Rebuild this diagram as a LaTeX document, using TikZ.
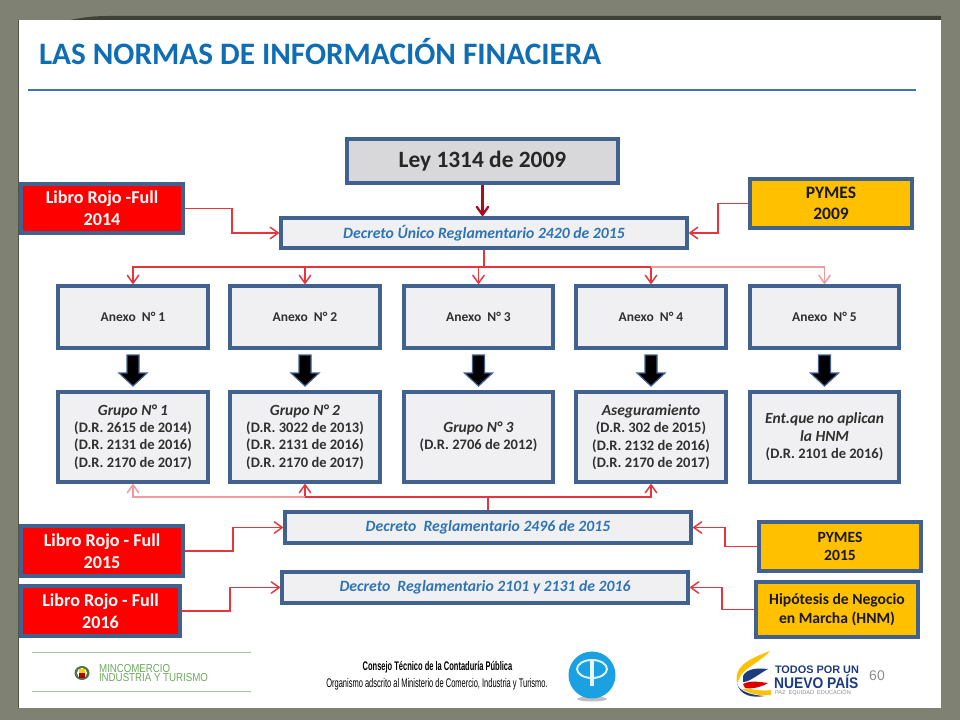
\documentclass[tikz,border=0pt]{standalone}
\usepackage{fontspec}
\setmainfont{Carlito}
\newfontfamily\narrowf[FakeStretch=0.6]{Liberation Sans}
\newfontfamily\logof{Liberation Sans}
\newfontfamily\minf[FakeStretch=0.845]{Liberation Sans}
\newfontfamily\nuevof[FakeStretch=0.9]{Liberation Sans}
\usetikzlibrary{arrows.meta,calc}
\definecolor{bgc}{HTML}{7F8172}
\definecolor{shadowc}{HTML}{3E4135}
\definecolor{frame}{HTML}{41618F}
\definecolor{pale}{HTML}{F0F0F2}
\definecolor{greyb}{HTML}{D8D8DA}
\definecolor{amber}{HTML}{FFC000}
\definecolor{titleb}{HTML}{0F6DB4}
\definecolor{rule}{HTML}{3F74AE}
\definecolor{decb}{HTML}{2E74B5}
\definecolor{lnk}{HTML}{E8343C}
\definecolor{lnkpale}{HTML}{F29A9C}
\definecolor{lnkdark}{HTML}{A80C1C}
\definecolor{txt}{HTML}{303030}
\definecolor{mingreen}{HTML}{6FA860}
\definecolor{linegreen}{HTML}{A9B8A0}
\definecolor{navy}{HTML}{1C3C7E}
\definecolor{cpblue}{HTML}{1BA1E2}
\newcommand\sz[2]{\fontsize{\dimexpr#1pt*3/4\relax}{\dimexpr#2pt*3/4\relax}\selectfont}
\tikzset{
  x=0.75pt,y=-0.75pt,
  box/.style={draw=frame,line width=3pt,rectangle,inner sep=0pt,align=center,outer sep=0.5\pgflinewidth,fill=pale},
  leybox/.style={box,fill=greyb,font=\sz{23.4}{26}\bfseries,text=black!85},
  decbox/.style={box,font=\sz{15.7}{17}\bfseries\itshape,text=decb},
  redbox/.style={box,fill=red,font=\sz{18.1}{22}\bfseries,text=white},
  ambbox/.style={box,fill=amber,font=\sz{17.5}{21.5}\bfseries,text=black!90},
  ambsmall/.style={box,fill=amber,font=\sz{15.6}{18.5}\bfseries,text=black!90},
  anxbox/.style={box,font=\sz{13.5}{17}\bfseries,text=txt},
  grpbox/.style={box,font=\sz{14.5}{17.4}\bfseries,text=txt},
  link/.style={draw=lnk,line width=1.1pt,-{Straight Barb[length=6pt,width=8.5pt,round]}},
  linkpale/.style={link,draw=lnkpale},
  linkdark/.style={link,draw=lnkdark,line width=1.7pt},
  bus/.style={draw=lnk,line width=1.1pt},
  bigarrow/.style={fill=black,draw=frame,line width=0.9pt,line join=miter},
  plain/.style={inner sep=0pt,outer sep=0pt},
}
% name, style, x0, y0, x1, y1, text
\newcommand\bx[7]{\node[#2,minimum width={(#5-#3-4)*0.75pt},minimum height={(#6-#4-4)*0.75pt}] (#1) at ({(#3+#5)/2},{(#4+#6)/2}) {#7};}
\newcommand\bigarr[1]{\draw[bigarrow] ($(#1.south)+(-6,5)$) -- ($(#1.south)+(6,5)$) -- ($(#1.south)+(6,23)$) -- ($(#1.south)+(14,23)$) -- ($(#1.south)+(0,36)$) -- ($(#1.south)+(-14,23)$) -- ($(#1.south)+(-6,23)$) -- cycle;}
\begin{document}
\begin{tikzpicture}
\useasboundingbox (0,0) rectangle (960,720);
% background and slide
\fill[bgc] (0,0) rectangle (960,720);
\fill[shadowc] (70,20) .. controls (85,17) and (95,16) .. (110,16) -- (941,16) -- (941,20) -- cycle;
\fill[shadowc!70!bgc] (17.5,20) rectangle (19,708);
\fill[white] (19,20) rectangle (941,708);
% title
\node[plain,anchor=west,font=\sz{31.2}{34}\bfseries,text=titleb] (title) at (39,52) {LAS NORMAS DE INFORMACIÓN FINACIERA};
\draw[rule,line width=1.2pt] (28,90) -- (916,90);
% boxes
\bx{ley}{leybox}{345}{137}{620}{185}{\raisebox{-1.5pt}{Ley 1314 de 2009}}
\bx{dec}{decbox}{279}{216}{689}{250}{Decreto Único Reglamentario 2420 de 2015}
\bx{lr14}{redbox}{19}{182}{185}{235}{Libro Rojo -Full\\2014}
\bx{py09}{ambbox}{748}{177}{914}{230}{PYMES\\2009}
\bx{a1}{anxbox}{56}{284}{210}{350}{Anexo\ \ N° 1}
\bx{a2}{anxbox}{228}{284}{382}{350}{Anexo\ \ N° 2}
\bx{a3}{anxbox}{402}{284}{555}{350}{Anexo\ \ N° 3}
\bx{a4}{anxbox}{574}{284}{728}{350}{Anexo\ \ N° 4}
\bx{a5}{anxbox}{748}{284}{901}{350}{Anexo\ \ N° 5}
\bx{g1}{grpbox}{56}{390}{210}{484}{{\sz{15.5}{17}\itshape Grupo N° 1}\\(D.R. 2615 de 2014)\\(D.R. 2131 de 2016)\\(D.R. 2170 de 2017)}
\bx{g2}{grpbox}{228}{390}{382}{484}{{\sz{15.5}{17}\itshape Grupo N° 2}\\(D.R. 3022 de 2013)\\(D.R. 2131 de 2016)\\(D.R. 2170 de 2017)}
\bx{g3}{grpbox}{402}{390}{555}{484}{{\sz{15.5}{17}\itshape Grupo N° 3}\\(D.R. 2706 de 2012)}
\bx{g4}{grpbox}{574}{390}{728}{484}{{\sz{15.5}{17}\itshape Aseguramiento}\\(D.R. 302 de 2015)\\(D.R. 2132 de 2016)\\(D.R. 2170 de 2017)}
\bx{g5}{grpbox}{748}{390}{901}{484}{{\sz{15.5}{17}\itshape Ent.que no aplican}\\{\sz{15.5}{17}\itshape la HNM}\\(D.R. 2101 de 2016)}
\bx{d15}{decbox}{283}{510}{693}{545}{Decreto\ \ Reglamentario 2496 de 2015}
\bx{d16}{decbox}{280}{570}{690}{605}{Decreto\ \ Reglamentario 2101 y 2131 de 2016}
\bx{lr15}{redbox}{19}{524}{185}{578}{Libro Rojo - Full\\2015}
\bx{lr16}{redbox}{19}{584}{182}{638}{Libro Rojo - Full\\2016}
\bx{py15}{ambsmall}{757}{520}{923}{573}{PYMES\\2015}
\bx{hnm}{ambsmall}{754}{580}{920}{639}{Hipótesis de Negocio\\en Marcha (HNM)}
% connectors
\draw[linkdark] (ley.south) -- (ley.south |- dec.north);
\draw[link] (lr14.east) -- ++(47,0) |- (dec.west);
\draw[link] (py09.west) -- ++(-30,0) |- (dec.east);
\coordinate (upbus) at ($(dec.south)+(0,17)$);
\draw[bus] (dec.south) -- (upbus);
\draw[link] (upbus) -| (a1.north);
\draw[link] (upbus) -| (a2.north);
\draw[link] (upbus) -| (a3.north);
\draw[link] (upbus) -| (a4.north);
\draw[linkpale] (a4.north |- upbus) -| (a5.north);
\bigarr{a1}\bigarr{a2}\bigarr{a3}\bigarr{a4}\bigarr{a5}
\coordinate (lowbus) at ($(d15.north)+(0,-13)$);
\draw[bus] (d15.north) -- (lowbus);
\draw[link] (lowbus) -| (g4.south);
\draw[link] (lowbus) -| (g2.south);
\draw[linkpale] (g2.south |- lowbus) -| (g1.south);
\draw[link] (lr15.east) -- ++(48,0) |- (d15.west);
\draw[link] (py15.west) -- ++(-32,0) |- (d15.east);
\draw[link] (lr16.east) -- ++(48,0) |- (d16.west);
\draw[link] (hnm.west) -- ++(-32,0) |- (d16.east);
% footer left
\draw[linegreen,line width=0.8pt] (32,652.5) -- (251,652.5);
\draw[linegreen,line width=0.8pt] (32,691.5) -- (251,691.5);
\fill[mingreen!70!black] (82,673) circle [x radius=7.5,y radius=7];
\fill[white] (82,673) circle [x radius=5,y radius=5];
\fill[yellow!70!orange] (79,668.5) rectangle (85,673);
\fill[red!70!black] (79,673) rectangle (85,678);
\node[plain,anchor=west,align=left,text=mingreen,font=\minf\sz{11.5}{9.5}] (min) at (99,673) {MINCOMERCIO\\INDUSTRIA Y TURISMO};
% footer centre
\node[plain,text=black,font=\narrowf\sz{12.5}{14}\bfseries] (cons) at (437.5,667) {Consejo Técnico de la Contaduría Pública};
\node[plain,text=black,font=\narrowf\sz{12.5}{14}] (org) at (437,684) {Organismo adscrito al Ministerio de Comercio, Industria y Turismo.};
% CP logo
\fill[black!25] (592,699) ellipse [x radius=15,y radius=2.5];
\fill[cpblue] (592,675) circle [radius=23.5];
\draw[white!85!cyan,line width=1.5pt] (592,669) ellipse [x radius=15,y radius=9];
\fill[white!90!cyan] (590,660) rectangle (594,686);
% Colombia logo
\fill[amber] (737,683) .. controls (734,668) and (745,660) .. (770,651) .. controls (760,662) and (748,666) .. (741,675) -- cycle;
\fill[navy] (743,676) .. controls (747,668) and (758,668) .. (768,669) .. controls (760,673) and (750,682) .. (743,682) -- cycle;
\fill[red!85!black] (743,684) .. controls (750,680) and (760,682) .. (768,683) .. controls (760,688) and (750,689) .. (745,688) -- cycle;
\fill[amber] (742,689) .. controls (752,688) and (760,692) .. (771,690) -- (771,695) .. controls (760,696) and (750,694) .. (742,689) -- cycle;
\fill[navy] (737,683) .. controls (738,690) and (748,695) .. (765,696) .. controls (752,698) and (740,696) .. (737,683) -- cycle;
\node[plain,anchor=west,text=navy,font=\logof\sz{10.9}{12}\bfseries] (todos) at (775,670) {TODOS POR UN};
\node[plain,anchor=west,text=navy,font=\nuevof\sz{15.4}{16}\bfseries] (nuevo) at (774,682) {NUEVO PAÍS};
\node[plain,anchor=west,text=black!45,font=\logof\sz{5.6}{6}] (paz) at (775,693) {PAZ\ \ EQUIDAD\ \ EDUCACIÓN};
\node[plain,text=black!45,font=\logof\sz{14}{16}] (num) at (877,676) {60};
\end{tikzpicture}
\end{document}
